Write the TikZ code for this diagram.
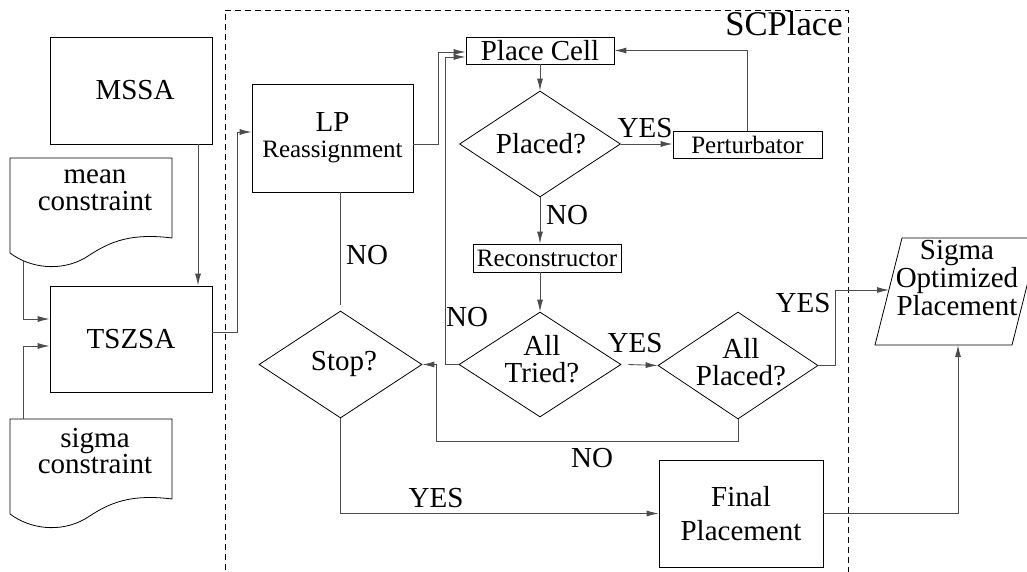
\documentclass[tikz,border=0pt]{standalone}
\usepackage{fontspec}
\setmainfont{Liberation Serif}
\usetikzlibrary{shapes.geometric,arrows.meta,calc}
\newcommand\fntbig{\fontsize{21.75}{20}\selectfont}
\newcommand\fntsmall{\fontsize{18.75}{19}\selectfont}
\begin{document}
\begin{tikzpicture}[x=0.75pt,y=-0.75pt,
  sz/.style 2 args={minimum width=#1*0.75pt,minimum height=#2*0.75pt},
  box/.style={draw,line width=0.6pt,inner sep=0pt,align=center,font=\fntbig},
  dia/.style={draw,diamond,line width=0.6pt,inner sep=0pt},
  doc/.style={draw,line width=0.6pt},
  conn/.style={draw=black!70,line width=0.65pt},
  arr/.style={conn,-{Latex[length=9pt,width=4.5pt]}},
  lbl/.style={font=\fntbig,inner sep=0pt,align=center},
]
\clip (0,0) rectangle (1027,571);
\fill[white] (0,0) rectangle (1027,571);

% SCPlace frame
\draw[line width=0.6pt,dash pattern=on 4.5pt off 3pt] (225,580) -- (225,10) -- (848,10) -- (848,580);
\node[anchor=base east,inner sep=0pt,font=\fontsize{26}{26}\selectfont] (scp) at (843,36) {SCPlace};

% left column
\node[box,sz={162}{107}] (mssa) at (131,90.5) {\hspace*{6pt}MSSA};
\node[box,sz={162}{106}] (tszsa) at (131,339) {TSZSA};

\draw[doc] (172,238) -- (172,158) -- (10,158) -- (10,253)
  .. controls (30,268) and (60,272) .. (85,258)
  .. controls (105,245) and (125,232) .. (172,238);
\node[lbl,font=\fontsize{21.75}{20}\selectfont] (mean) at (95,190) {mean\\constraint};
\coordinate (meanb) at (23,260);

\draw[doc] (172,499) -- (172,419) -- (10,419) -- (10,514)
  .. controls (30,529) and (60,533) .. (85,519)
  .. controls (105,506) and (125,493) .. (172,499);
\node[lbl,font=\fontsize{21.75}{20}\selectfont] (sigc) at (95,451) {sigma\\constraint};
\coordinate (sigt) at (23,419);

% SCPlace nodes
\node[box,sz={161}{108},font=\fontsize{21.75}{19.5}\selectfont] (lp) at (332.5,138) {LP\\{\fntsmall Reassignment}};
\node[box,sz={148}{27}] (place) at (540,50.5) {Place Cell};
\node[dia,sz={161}{106}] (placed) at (540,144) {};
\node[lbl] at (541,144) {Placed?};
\node[box,sz={149}{27},font=\fntsmall] (pert) at (747.5,144.5) {Perturbator};
\node[box,sz={148}{28},font=\fntsmall] (recon) at (547,258) {Reconstructor};
\node[dia,sz={162}{105}] (tried) at (540,364.5) {};
\node[lbl,font=\fontsize{21.75}{20.25}\selectfont] at (542,359) {All\\Tried?};
\node[dia,sz={160}{107}] (allpl) at (738,365.5) {};
\node[lbl,font=\fontsize{21.75}{20.25}\selectfont] at (741,362) {All\\Placed?};
\node[dia,sz={163}{107}] (stop) at (340.5,364.5) {};
\node[lbl] at (344,364) {Stop?};
\node[box,sz={164}{107},font=\fontsize{21.75}{25.5}\selectfont] (final) at (741,513.5) {Final\\Placement};

% output parallelogram
\draw[doc] (875,345) -- (1012,345) -- (1039,238) -- (902,238) -- cycle;
\node[lbl,font=\fontsize{21.75}{17.5}\selectfont] (sig) at (957,278) {Sigma\\Optimized\\Placement};
\coordinate (sigl) at (889,290);
\coordinate (sigb) at (958,345);

% connectors
\draw[arr] ($(mssa.south)+(67,0)$) -- ($(tszsa.north)+(67,0)$);
\draw[arr] (meanb) |- ($(tszsa.west)+(0,-20)$);
\draw[arr] (sigt) |- ($(tszsa.west)+(0,7)$);
\draw[arr] ($(tszsa.east)+(0,-7)$) -| ($(lp.west)+(-14,-6)$) -- ($(lp.west)+(0,-6)$);
\draw[arr] ($(lp.east)+(0,6)$) -| ($(place.west)+(-27,1.5)$) -- ($(place.west)+(0,1.5)$);
\draw[arr] (tried.west) -- ++(-13,0) |- ($(place.west)+(0,6.5)$);
\draw[arr] (place.south) -- (placed.north);
\draw[arr] (placed.east) -- (pert.west |- placed.east);
\draw[arr] (pert.north) |- (place.east);
\draw[arr] (placed.south) -- (placed.south |- recon.north);
\draw[arr] (recon.south -| tried.north) -- (tried.north);
\draw[arr] ($(tried.east)+(7,0)$) -- (allpl.west);
\draw[arr] (allpl.east) -- ++(17,0) |- (sigl);
\draw[arr] (allpl.south) -- ++(0,22) -| ($(stop.east)+(14,0)$) -- (stop.east);
\draw[conn] (lp.south -| stop.north) -- ($(stop.north)+(0,-6)$);
\draw[arr] (stop.south) |- (final.west);
\draw[arr] (final.east) -| (sigb);

% labels
\node[lbl] at (367,255) {NO};
\node[lbl] at (467,317) {NO};
\node[lbl] at (645,128) {YES};
\node[lbl] at (567,215) {NO};
\node[lbl] at (635,343) {YES};
\node[lbl] at (803,303) {YES};
\node[lbl] at (592,458) {NO};
\node[lbl] at (436,498) {YES};
\end{tikzpicture}
\end{document}
